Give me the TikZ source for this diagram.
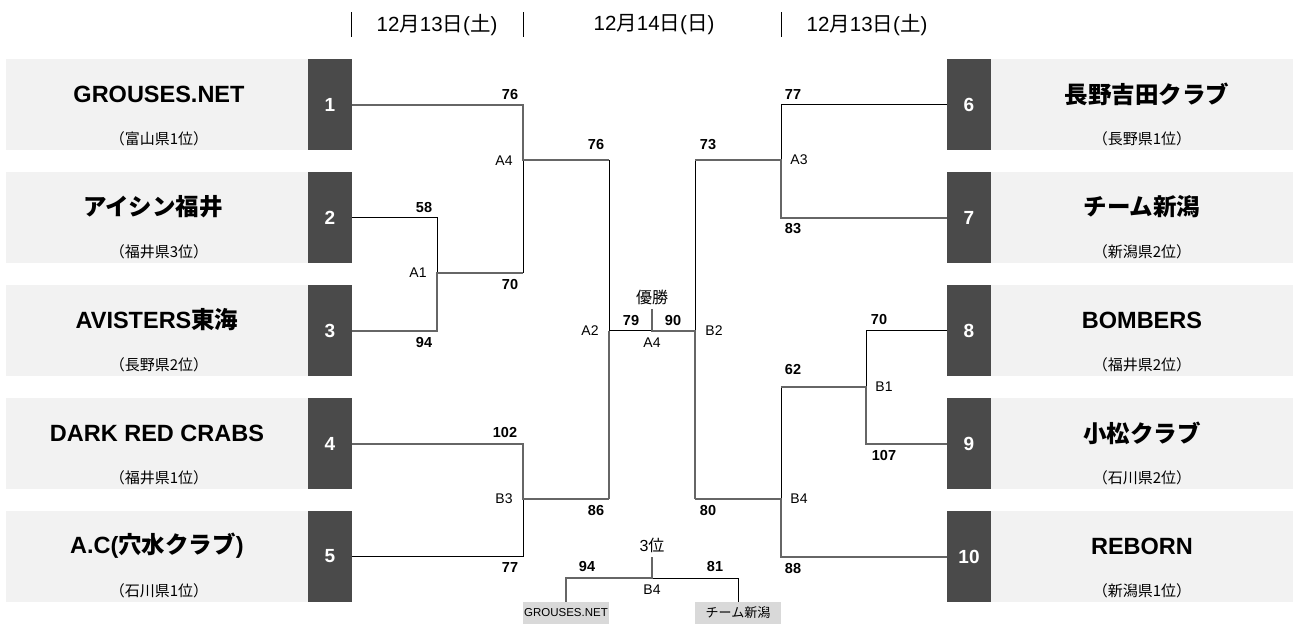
\documentclass[tikz,border=0pt]{standalone}
\usepackage{fontspec}
\setmainfont{Liberation Sans}
\newfontfamily\jp{Noto Sans CJK JP}
\definecolor{boxlight}{HTML}{F2F2F2}
\definecolor{boxdark}{HTML}{4A4A4A}
\definecolor{wingray}{HTML}{666666}
\definecolor{thirdbox}{HTML}{D9D9D9}
\tikzset{
 win/.style={draw=wingray, line width=2pt},
 lose/.style={draw=black, line width=1pt},
 teambox/.style={fill=boxlight, minimum width=302pt, minimum height=91pt, inner sep=0pt, draw=none},
 numbox/.style={fill=boxdark, minimum width=44pt, minimum height=91pt, inner sep=0pt, text=white, font=\bfseries\fontsize{19}{19}\selectfont},
 tname/.style={font=\bfseries\fontsize{23.5}{25}\selectfont, inner sep=0pt},
 tsub/.style={font=\jp\fontsize{15}{16}\selectfont, inner sep=0pt},
 score/.style={font=\bfseries\fontsize{14.5}{15}\selectfont, inner sep=0pt},
 mlabel/.style={font=\fontsize{14}{15}\selectfont, inner sep=0pt},
 hdr/.style={font=\fontsize{20.5}{22}\selectfont, inner sep=0pt},
 hbar/.style={draw=black, line width=1pt},
 smallbox/.style={fill=thirdbox, minimum width=86pt, minimum height=22pt, inner sep=0pt},
}
\begin{document}
\begin{tikzpicture}[x=1pt,y=-1pt]
\path[use as bounding box] (0,0) rectangle (1299,624);

% header
\draw[hbar] (351,12) -- (351,37);
\draw[hbar] (523,12) -- (523,37);
\draw[hbar] (781,12) -- (781,37);
\node[hdr] (H1) at (437,25) {12{\jp 月}13{\jp 日}({\jp 土})};
\node[hdr] (H2) at (654,25) {12{\jp 月}14{\jp 日}({\jp 日})};
\node[hdr] (H3) at (867,25) {12{\jp 月}13{\jp 日}({\jp 土})};

% left teams
\node[teambox] (L1) at (157,104.5) {};
\node[numbox] (N1) at (330,104.5) {1};
\node[tname] (T1) at (159,94) {GROUSES.NET};
\node[tsub] (S1) at (159,139) {（富山県1位）};

\node[teambox] (L2) at (157,217.5) {};
\node[numbox] (N2) at (330,217.5) {2};
\node[tname] (T2) at (153,207) {\jp アイシン福井};
\node[tsub] (S2) at (159,252) {（福井県3位）};

\node[teambox] (L3) at (157,330.5) {};
\node[numbox] (N3) at (330,330.5) {3};
\node[tname] (T3) at (157,320) {AVISTERS{\jp 東海}};
\node[tsub] (S3) at (159,365) {（長野県2位）};

\node[teambox] (L4) at (157,443.5) {};
\node[numbox] (N4) at (330,443.5) {4};
\node[tname] (T4) at (157,433) {DARK RED CRABS};
\node[tsub] (S4) at (159,478) {（福井県1位）};

\node[teambox] (L5) at (157,556.5) {};
\node[numbox] (N5) at (330,556.5) {5};
\node[tname] (T5) at (157,546) {A.C({\jp 穴水クラブ})};
\node[tsub] (S5) at (159,591) {（石川県1位）};

% right teams
\node[teambox] (L6) at (1142,104.5) {};
\node[numbox] (N6) at (969,104.5) {6};
\node[tname] (T6) at (1147,94) {\jp 長野吉田クラブ};
\node[tsub] (S6) at (1142,139) {（長野県1位）};

\node[teambox] (L7) at (1142,217.5) {};
\node[numbox] (N7) at (969,217.5) {7};
\node[tname] (T7) at (1142,207) {\jp チーム新潟};
\node[tsub] (S7) at (1142,252) {（新潟県2位）};

\node[teambox] (L8) at (1142,330.5) {};
\node[numbox] (N8) at (969,330.5) {8};
\node[tname] (T8) at (1142,320) {BOMBERS};
\node[tsub] (S8) at (1142,365) {（福井県2位）};

\node[teambox] (L9) at (1142,443.5) {};
\node[numbox] (N9) at (969,443.5) {9};
\node[tname] (T9) at (1142,433) {\jp 小松クラブ};
\node[tsub] (S9) at (1142,478) {（石川県2位）};

\node[teambox] (L10) at (1142,556.5) {};
\node[numbox] (N10) at (969,556.5) {10};
\node[tname] (T10) at (1142,546) {REBORN};
\node[tsub] (S10) at (1142,591) {（新潟県1位）};

% bracket junctions
\coordinate (a4t) at (523,104.5);
\coordinate (a4m) at (523,160);
\coordinate (a4b) at (523,273);
\coordinate (a1t) at (437,217.5);
\coordinate (a1m) at (437,273);
\coordinate (a1b) at (437,330.5);
\coordinate (b3t) at (523,443.5);
\coordinate (b3m) at (523,499);
\coordinate (b3b) at (523,556.5);
\coordinate (a2t) at (609,160);
\coordinate (a2m) at (609,330.5);
\coordinate (a2b) at (609,499);
\coordinate (fm) at (652,330.5);
\coordinate (ftop) at (652,309);
\coordinate (b2t) at (695,160);
\coordinate (b2m) at (695,330.5);
\coordinate (b2b) at (695,499);
\coordinate (a3t) at (781,104.5);
\coordinate (a3m) at (781,160);
\coordinate (a3b) at (781,217.5);
\coordinate (b1t) at (866,330.5);
\coordinate (b1m) at (866,387);
\coordinate (b1b) at (866,443.5);
\coordinate (b4t) at (781,387);
\coordinate (b4m) at (781,499);
\coordinate (b4b) at (781,556.5);

% losing lines
\draw[lose] (a4m) -- (a4b);
\draw[lose] (N2.east) -- (a1t) -- (a1m);
\draw[lose] (N5.east) -- (b3b) -- (b3m);
\draw[lose] (a2t) -- (a2m) -- (fm);
\draw[lose] (N6.west) -- (a3t) -- (a3m);
\draw[lose] (b2t) -- (b2m);
\draw[lose] (N8.west) -- (b1t) -- (b1m);
\draw[lose] (b4t) -- (b4m);
% winning lines
\draw[win] (N1.east) -- (a4t) -- (a4m) -- (a2t);
\draw[win] (N3.east) -- (a1b) -- (a1m) -- (a4b);
\draw[win] (N4.east) -- (b3t) -- (b3m) -- (a2b);
\draw[win] (a2b) -- (a2m);
\draw[win] (N7.west) -- (a3b) -- (a3m) -- (b2t);
\draw[win] (N9.west) -- (b1b) -- (b1m) -- (b4t);
\draw[win] (N10.west) -- (b4b) -- (b4m) -- (b2b);
\draw[win] (b2b) -- (b2m) -- (fm) -- (ftop);

% scores
\node[score] at (510,95) {76};
\node[score] at (424,208) {58};
\node[score] at (424,343) {94};
\node[score] at (510,285) {70};
\node[score] at (596,145) {76};
\node[score] at (505,433) {102};
\node[score] at (510,568) {77};
\node[score] at (596,511) {86};
\node[score] at (631,321) {79};
\node[score] at (673,321) {90};
\node[score] at (708,145) {73};
\node[score] at (708,511) {80};
\node[score] at (793,95) {77};
\node[score] at (793,229) {83};
\node[score] at (879,320) {70};
\node[score] at (884,456) {107};
\node[score] at (793,370) {62};
\node[score] at (793,569) {88};

% match labels
\node[mlabel] at (504,161) {A4};
\node[mlabel] at (418,273) {A1};
\node[mlabel] at (590,331) {A2};
\node[mlabel] at (504,499) {B3};
\node[mlabel] at (652,343) {A4};
\node[mlabel] at (714,331) {B2};
\node[mlabel] at (799,160) {A3};
\node[mlabel] at (884,387) {B1};
\node[mlabel] at (799,499) {B4};
\node[mlabel, font=\jp\fontsize{16}{17}\selectfont] at (652,297) {優勝};

% third place
\node[smallbox, font=\fontsize{11.5}{12}\selectfont] (G) at (566,613) {GROUSES.NET};
\node[smallbox, font=\jp\fontsize{13}{13}\selectfont] (K) at (738,613) {チーム新潟};
\coordinate (tl) at (566,578);
\coordinate (tm) at (652,578);
\coordinate (tr) at (738,578);
\coordinate (ttop) at (652,557);
\draw[lose] (tm) -- (tr) -- (K.north);
\draw[win] (G.north) -- (tl) -- (tm) -- (ttop);
\node[mlabel, font=\fontsize{16}{17}\selectfont] at (652,545) {3{\jp 位}};
\node[mlabel] at (652,590) {B4};
\node[score] at (587,567) {94};
\node[score] at (715,567) {81};
\end{tikzpicture}
\end{document}
